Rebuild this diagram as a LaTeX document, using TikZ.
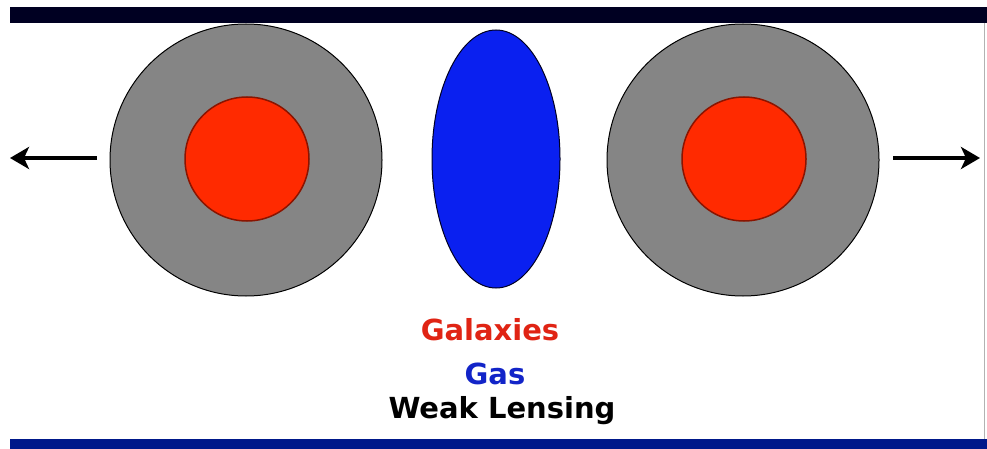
\documentclass[tikz,border=0pt]{standalone}
\usepackage{fontspec}
\setmainfont{DejaVu Sans}
\usetikzlibrary{arrows.meta, positioning, shapes.geometric}
\definecolor{cnavy}{HTML}{000022}
\definecolor{cband}{HTML}{00188A}
\definecolor{cgrey}{HTML}{858585}
\definecolor{cred}{HTML}{FF2A00}
\definecolor{cdarkred}{HTML}{8A1400}
\definecolor{cblue}{HTML}{0A20F0}
\definecolor{ctxtred}{HTML}{E02414}
\definecolor{ctxtblue}{HTML}{1224C8}
\tikzset{
  every picture/.style={font=\bfseries, line width=1pt},
  halo/.style={circle, draw=black, fill=cgrey, minimum size=272pt, inner sep=0pt},
  core/.style={circle, draw=cdarkred, fill=cred, line width=1.5pt, minimum size=124pt, inner sep=0pt},
  gas/.style={ellipse, draw=cnavy, fill=cblue, minimum width=128pt, minimum height=258pt, inner sep=0pt},
  arrow/.style={-{Stealth[length=19pt, width=22pt, inset=5pt]}, draw=black, line width=4pt},
  legend/.style={font=\fontsize{29}{31}\selectfont\bfseries, anchor=base, inner sep=0pt},
}

\begin{document}
\begin{tikzpicture}[x=1pt, y=-1pt]
  \useasboundingbox (0,0) rectangle (987,449);
  \fill[white] (0,0) rectangle (987,449);
  \fill[cnavy] (10,7) rectangle (987,23);
  \fill[cband] (10,439) rectangle (987,449);
  \draw[gray!60, line width=0.8pt] (984,23) -- (984,439);
  % clusters and gas
  \node[halo] (haloL) at (246,160) {};
  \node[halo] (haloR) at (743,160) {};
  \node[core] (coreL) at (247,159) {};
  \node[core] (coreR) at (744,159) {};
  \node[gas] (gas) at (496,159) {};
  % motion
  \coordinate (leftEnd) at (10,158);
  \coordinate (rightEnd) at (980,158);
  \coordinate (leftStart) at (97,158);
  \coordinate (rightStart) at (893,158);
  \draw[arrow] (leftStart) -- (leftEnd);
  \draw[arrow] (rightStart) -- (rightEnd);
  % legend
  \node[legend, text=ctxtred] (galaxies) at (490,340) {Galaxies};
  \node[legend, text=ctxtblue] (gaslabel) at (495,384) {Gas};
  \node[legend, text=black] (lensing) at (502,418) {Weak Lensing};
\end{tikzpicture}
\end{document}
